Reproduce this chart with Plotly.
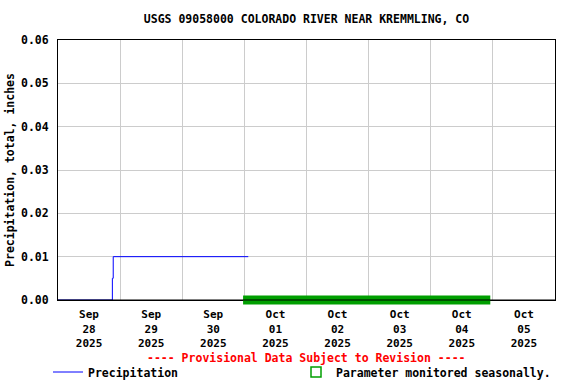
import plotly.graph_objects as go

# ---- data ----
title_text = "USGS 09058000 COLORADO RIVER NEAR KREMMLING, CO"
y_title = "Precipitation, total, inches"

precip_times = ["2025-09-28 00:00", "2025-09-28 21:00", "2025-09-28 21:20", "2025-10-01 01:30"]
precip_values = [0.0, 0.005, 0.01, 0.01]

seasonal_times = ["2025-09-30 23:30", "2025-10-04 23:00"]
seasonal_values = [0.0, 0.0]

day_starts = ["2025-09-28", "2025-09-29", "2025-09-30", "2025-10-01", "2025-10-02",
              "2025-10-03", "2025-10-04", "2025-10-05", "2025-10-06"]
label_positions = ["2025-09-28 12:00", "2025-09-29 12:00", "2025-09-30 12:00", "2025-10-01 12:00",
                   "2025-10-02 12:00", "2025-10-03 12:00", "2025-10-04 12:00", "2025-10-05 12:00"]
tick_labels = ["Sep<br>28<br>2025", "Sep<br>29<br>2025", "Sep<br>30<br>2025", "Oct<br>01<br>2025",
               "Oct<br>02<br>2025", "Oct<br>03<br>2025", "Oct<br>04<br>2025", "Oct<br>05<br>2025"]
y_ticks = [0.0, 0.01, 0.02, 0.03, 0.04, 0.05, 0.06]
y_range = [0.0, 0.06]

FONT = "DejaVu Sans Mono"
W, H = 576, 384
L, R, T, B = 58, 21, 40, 84
pw, ph = W - L - R, H - T - B


def px_x(x):
    return (x - L) / pw


def px_y(y):
    return (H - B - y) / ph


def y_to_paper(v):
    return (v - y_range[0]) / (y_range[1] - y_range[0])


fig = go.Figure()

fig.add_trace(go.Scatter(
    x=precip_times, y=precip_values, mode="lines", line_shape="hv",
    line=dict(color="#0000ff", width=1), name="Precipitation",
    cliponaxis=False, legend="legend", showlegend=True))

fig.add_trace(go.Scatter(
    x=[None], y=[None], mode="markers",
    marker=dict(symbol="square-open", color="#009f00", size=10, line=dict(width=1.5)),
    name="Parameter monitored seasonally.", legend="legend2", showlegend=True))

# seasonal band (x through the date axis, y mapped to paper so it is not clipped)
fig.add_shape(type="line", xref="x", yref="paper",
              x0=seasonal_times[0], x1=seasonal_times[1],
              y0=y_to_paper(seasonal_values[0]), y1=y_to_paper(seasonal_values[1]),
              line=dict(color="#009f00", width=9), layer="above")
# zero line redrawn on top of the band
fig.add_shape(type="line", xref="paper", yref="paper", x0=0, x1=1, y0=0, y1=0,
              line=dict(color="black", width=1), layer="above")

fig.update_layout(
    width=W, height=H, showlegend=True,
    margin=dict(l=L, r=R, t=T, b=B, autoexpand=False),
    paper_bgcolor="white", plot_bgcolor="white",
    font=dict(family=FONT, size=11.5, color="black", weight="bold"),
    title=dict(text=title_text, x=0.5, xref="paper", y=1 - 19 / H, yref="container",
               yanchor="middle", xanchor="center",
               font=dict(family=FONT, size=11.5, color="black", weight="bold")),
    xaxis=dict(
        type="date", range=[day_starts[0], day_starts[-1]], automargin=False,
        tickmode="array", tickvals=label_positions, ticktext=tick_labels,
        showgrid=False, ticks="", tickfont=dict(size=11, family=FONT, weight="bold"),
        minor=dict(tickmode="array", tickvals=day_starts, showgrid=True,
                   gridcolor="#cccccc", gridwidth=1, ticks=""),
        showline=True, linecolor="black", linewidth=1, mirror=True,
        zeroline=False, ticklabelstandoff=4,
    ),
    yaxis=dict(
        range=y_range, tickmode="array", tickvals=y_ticks, tickformat=".2f",
        automargin=False,
        showgrid=True, gridcolor="#cccccc", gridwidth=1, ticks="",
        showline=True, linecolor="black", linewidth=1, mirror=True,
        zeroline=False, ticklabelstandoff=6,
        title=dict(text=y_title, standoff=3,
                   font=dict(family=FONT, size=11.5, weight="bold")),
        tickfont=dict(size=11.5, family=FONT, weight="bold"),
    ),
    legend=dict(x=px_x(48), y=px_y(372), xanchor="left", yanchor="middle",
                bgcolor="rgba(0,0,0,0)", borderwidth=0, visible=True,
                font=dict(family=FONT, size=11.5, weight="bold")),
    legend2=dict(x=px_x(296), y=px_y(372), xanchor="left", yanchor="middle",
                 bgcolor="rgba(0,0,0,0)", borderwidth=0, visible=True,
                 font=dict(family=FONT, size=11.5, weight="bold")),
    annotations=[dict(text="---- Provisional Data Subject to Revision ----",
                      xref="paper", yref="paper", x=0.5, y=px_y(358),
                      xanchor="center", yanchor="middle", showarrow=False,
                      font=dict(family=FONT, size=11.5, color="#ff0000", weight="bold"))],
)

fig.write_html("out.html", config={"displayModeBar": False},
               post_script="document.body.style.margin='0';document.body.style.overflow='hidden';")
